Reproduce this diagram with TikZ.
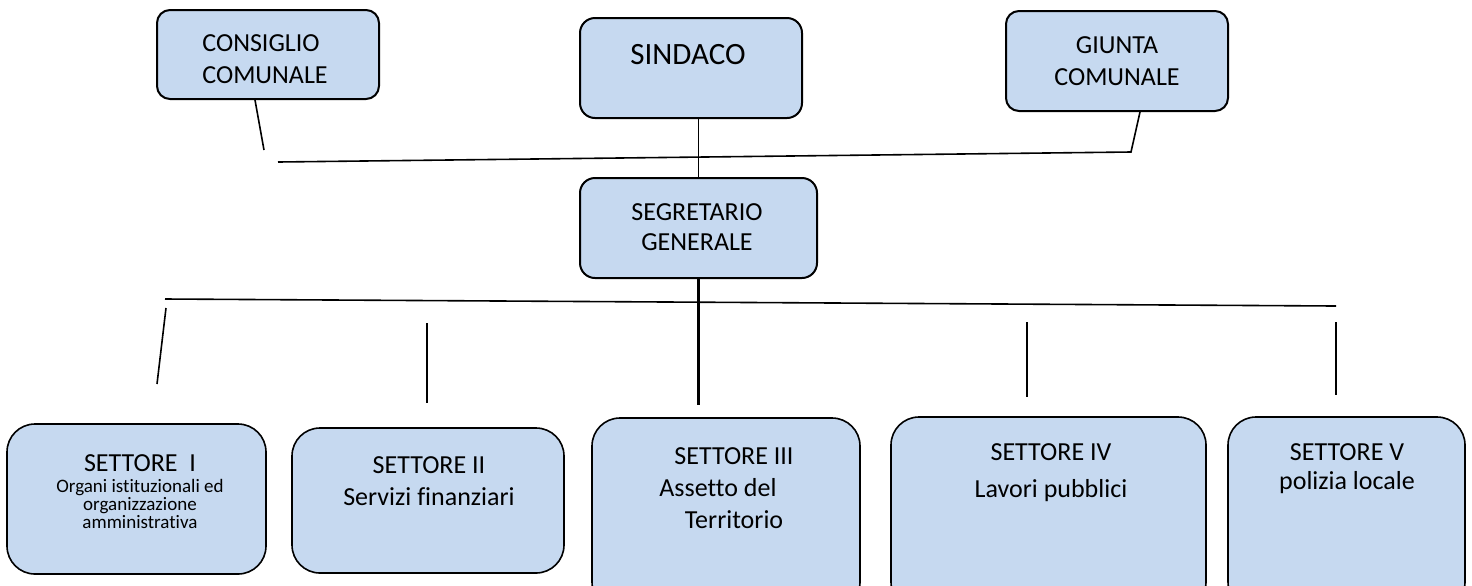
\documentclass[tikz,border=0pt]{standalone}
\usepackage{fontspec}
\setmainfont{Carlito}[Ligatures=NoCommon]
\usetikzlibrary{fit,calc}
\definecolor{boxblue}{HTML}{C6D9F0}
\tikzset{
    topbox/.style={draw=black, line width=1pt, fill=boxblue, rounded corners=6.5pt, inner sep=0},
    sectbox/.style={draw=black, line width=0.8pt, fill=boxblue, rounded corners=14pt, inner sep=0},
    txt/.style={inner sep=0, align=center, font=\fontsize{13}{16}\selectfont},
    small/.style={inner sep=0, align=center, font=\fontsize{9.5}{9.2}\selectfont},
    wire/.style={line width=0.8pt}
}

\begin{document}
\begin{tikzpicture}[x=0.5pt, y=-0.5pt]
    \clip (0,0) rectangle (1472,585);
    % top row
    \node[topbox, fit={(157,10) (379,99)}] (cons) {};
    \node[topbox, rounded corners=7.5pt, fit={(580,18) (802,118)}] (sind) {};
    \node[topbox, fit={(1006,11) (1228,111)}] (giu) {};
    \node[topbox, rounded corners=7.5pt, fit={(580,178) (817,278)}] (segr) {};
    \node[txt, anchor=west, align=left] (consT) at (202,59) {CONSIGLIO\\COMUNALE};
    \node[txt, font=\fontsize{15.5}{18}\selectfont] (sindT) at (688,55) {SINDACO};
    \node[txt] (giuT) at (1117,61) {GIUNTA\\COMUNALE};
    \node[txt] (segrT) at (697,227) {SEGRETARIO\\[-1pt]GENERALE};

    % settori
    \node[sectbox, fit={(7,424) (266,574)}] (s1) {};
    \node[sectbox, fit={(292,428) (564,573)}] (s2) {};
    \node[sectbox, fit={(592,418) (860,610)}] (s3) {};
    \node[sectbox, fit={(891,417) (1206,610)}] (s4) {};
    \node[sectbox, fit={(1228,417) (1465,610)}] (s5) {};
    \node[txt] (s1T) at (140,463) {SETTORE\ \ I};
    \node[small] (s1S) at (140,504) {Organi istituzionali ed\\organizzazione\\amministrativa};
    \node[txt] (s2T) at (429,481) {SETTORE II\\Servizi finanziari};
    \node[txt] (s3T) at (734,488) {SETTORE III\\Assetto del\kern16pt\\Territorio};
    \node[txt] (s4T) at (1051,473) {SETTORE IV\\[2.5pt]Lavori pubblici};
    \node[txt] (s5T) at (1347,469) {SETTORE V\\[-1.5pt]polizia locale};

    % connectors, top
    \coordinate (c1) at (264,150);
    \coordinate (h1a) at (278,162);
    \coordinate (h1b) at (1131,152);
    \draw[wire] ($(cons.south)+(-13,0)$) -- (c1);
    \draw[wire] (h1a) -- (h1b) -- ($(giu.south)+(23,0)$);
    \draw[wire] (segr.north |- sind.south) -- (segr.north);

    % connectors, bottom
    \coordinate (d3) at (segr.south |- 0,405);
    \draw[line width=1.4pt] (segr.south) -- (d3);
    \coordinate (h2a) at (165,299);
    \coordinate (h2b) at (1336,306);
    \draw[wire] (h2a) -- (h2b);
    \coordinate (t1) at (166,308);  \coordinate (b1) at (157,384);
    \coordinate (t2) at (427,323);  \coordinate (b2) at (427,403);
    \coordinate (t4) at (1027,322); \coordinate (b4) at (1027,397);
    \coordinate (t5) at (1336,322); \coordinate (b5) at (1336,395);
    \foreach \i in {1,2,4,5}
        \draw[wire] (t\i) -- (b\i);
\end{tikzpicture}
\end{document}
